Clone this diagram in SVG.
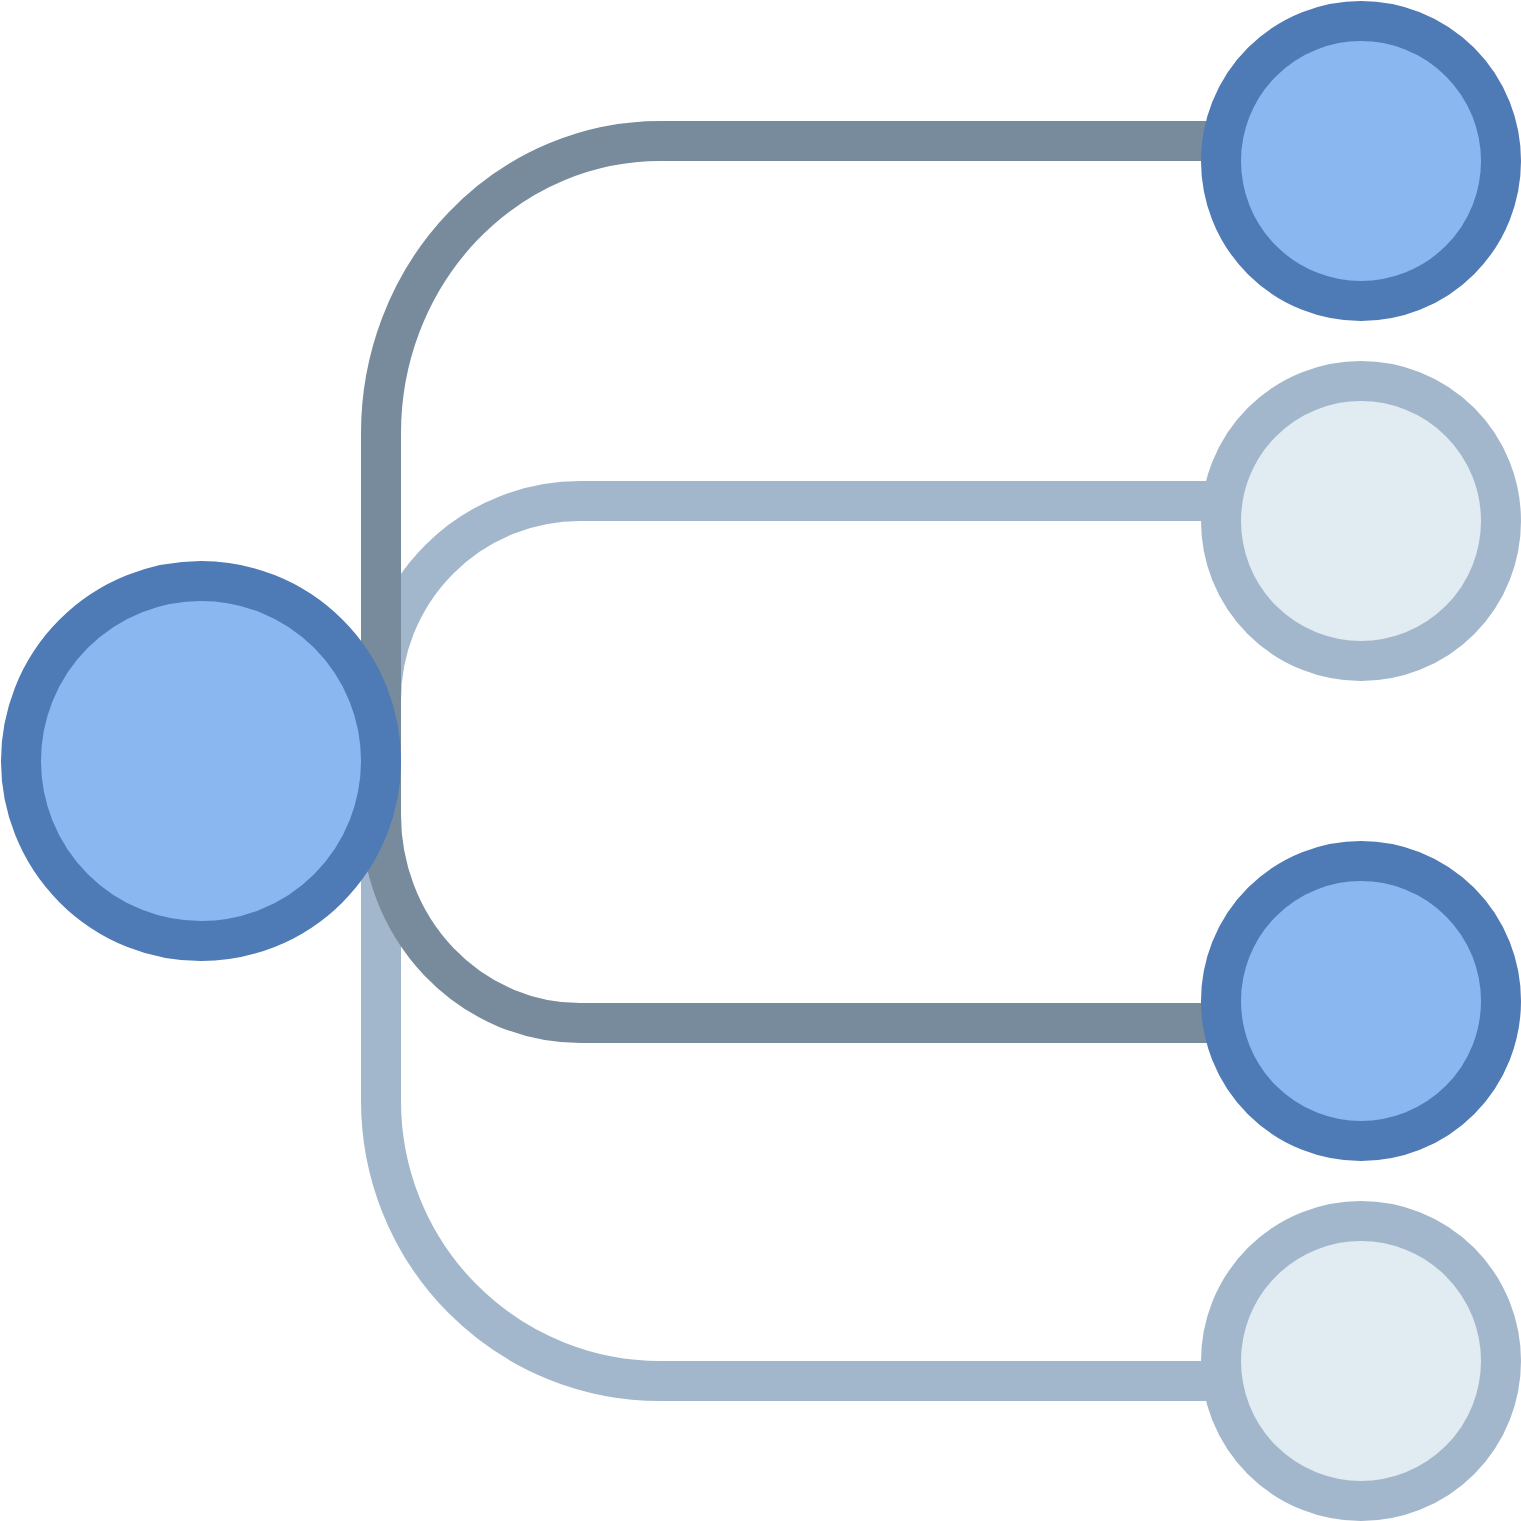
<svg xmlns="http://www.w3.org/2000/svg" width="1521" height="1521" viewBox="0 0 1521 1521">
<style>
.c{fill:none;stroke-width:40}
.dark{stroke:#788b9c}
.light{stroke:#a3b7cc}
.n{stroke-width:40}
.blue{fill:#8bb7f0;stroke:#4e7ab5}
.pale{fill:#e1ebf2;stroke:#a3b7cc}
</style>
<rect width="1521" height="1521" fill="#ffffff"/>
<g id="connectors">
<path class="c light" d="M1221 501 H580 A199 199 0 0 0 381 700 V1101 A279 280 0 0 0 660 1381 H1221"/>
<path class="c dark" d="M1221 141 H660 A279 292 0 0 0 381 433 V815 A199 208 0 0 0 580 1023 H1221"/>
</g>
<g id="root"><circle class="n blue" cx="201" cy="761" r="180"/></g>
<g id="n1"><circle class="n blue" cx="1361" cy="161" r="140"/></g>
<g id="n2"><circle class="n pale" cx="1361" cy="521" r="140"/></g>
<g id="n3"><circle class="n blue" cx="1361" cy="1001" r="140"/></g>
<g id="n4"><circle class="n pale" cx="1361" cy="1361" r="140"/></g>
</svg>
